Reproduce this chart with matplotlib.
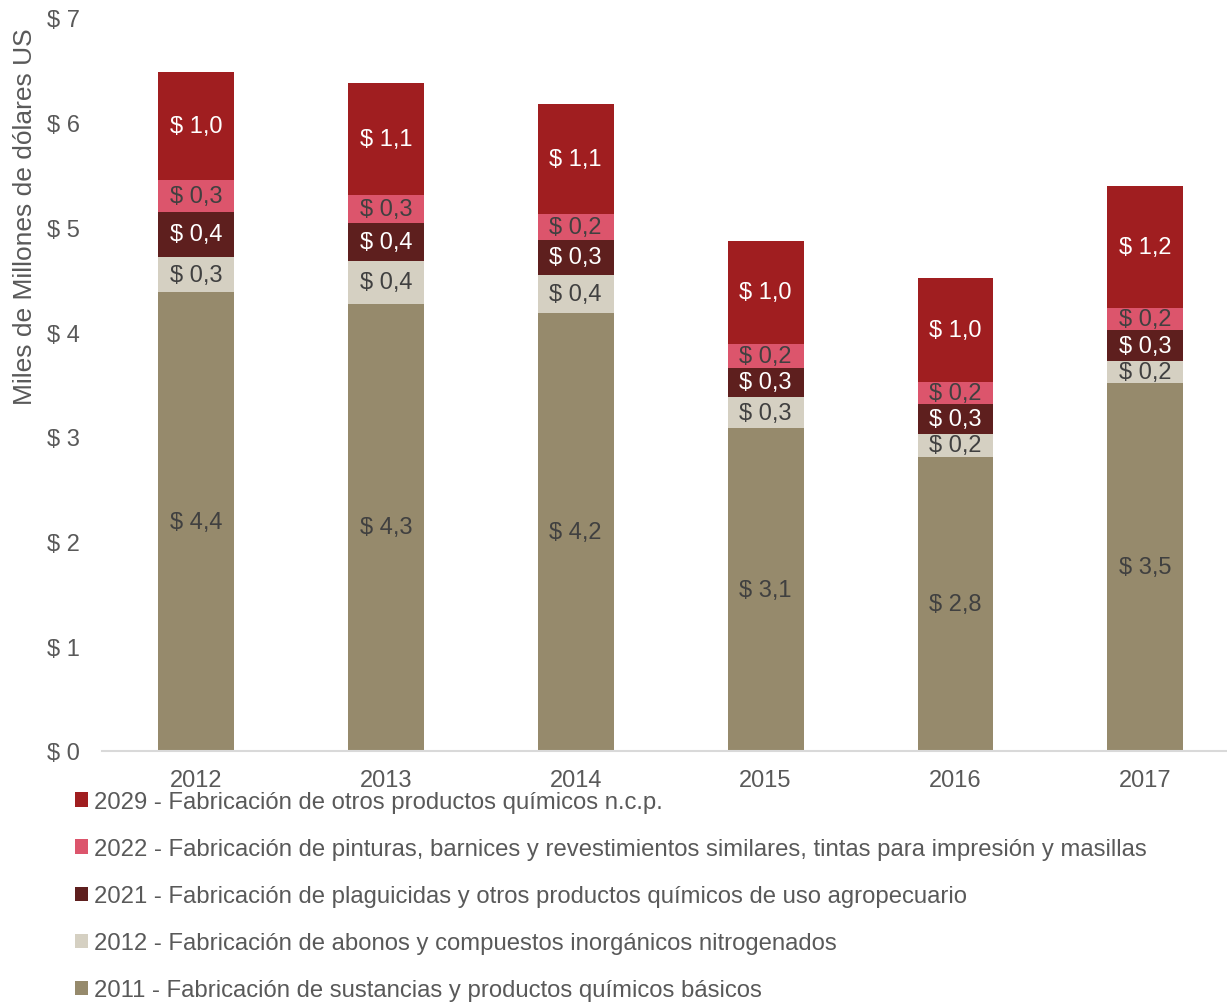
import matplotlib
matplotlib.use('Agg')
import matplotlib.pyplot as plt
from matplotlib.patches import Patch
import numpy as np

plt.rcParams['font.family'] = ['Liberation Sans', 'DejaVu Sans']

years = ['2012', '2013', '2014', '2015', '2016', '2017']

# miles de millones de dolares US
v2011 = [4.38, 4.27, 4.18, 3.08, 2.81, 3.51]
v2012 = [0.34, 0.41, 0.37, 0.30, 0.22, 0.21]
v2021 = [0.43, 0.36, 0.33, 0.28, 0.28, 0.30]
v2022 = [0.30, 0.27, 0.25, 0.23, 0.21, 0.21]
v2029 = [1.03, 1.07, 1.05, 0.98, 1.00, 1.17]

series = [
    (v2011, '#968A6C', '#404040', '2011 - Fabricación de sustancias y productos químicos básicos'),
    (v2012, '#D5D0C2', '#404040', '2012 - Fabricación de abonos y compuestos inorgánicos nitrogenados'),
    (v2021, '#5E1F1E', 'white', '2021 - Fabricación de plaguicidas y otros productos químicos de uso agropecuario'),
    (v2022, '#DC556C', '#404040', '2022 - Fabricación de pinturas, barnices y revestimientos similares, tintas para impresión y masillas'),
    (v2029, '#A01E20', 'white', '2029 - Fabricación de otros productos químicos n.c.p.'),
]

fs = 17

fig = plt.figure(figsize=(12.27, 10.03), dpi=100)
ax = fig.add_axes([102 / 1227, 1 - 752 / 1003, 1 - 102 / 1227, (752 - 19) / 1003])

x = np.arange(len(years))
bottom = np.zeros(len(years))
for vals, col, tcol, lab in series:
    vals = np.array(vals)
    ax.bar(x, vals, width=0.4, bottom=bottom, color=col, edgecolor='none')
    for xi, b, v in zip(x, bottom, vals):
        ax.text(xi, b + v / 2, '$ ' + f'{v:.1f}'.replace('.', ','),
                ha='center', va='center', fontsize=fs, color=tcol)
    bottom += vals

ax.set_xlim(-0.495, 5.43)
ax.set_ylim(0, 7)
ax.set_yticks(range(0, 8))
ax.set_yticklabels([f'$ {i}' for i in range(0, 8)])
ax.set_xticks(x)
ax.set_xticklabels(years)
ax.tick_params(axis='both', length=0, labelsize=fs, labelcolor='#595959')
ax.tick_params(axis='y', pad=16)
ax.tick_params(axis='x', pad=13)
for s in ['top', 'right', 'left']:
    ax.spines[s].set_visible(False)
ax.spines['bottom'].set_color('#D9D9D9')
ax.spines['bottom'].set_linewidth(1.5)

fig.text(25 / 1227, 1 - 217 / 1003, 'Miles de Millones de dólares US', rotation=90,
         ha='center', va='center', fontsize=19, color='#595959')

handles = [Patch(facecolor=c, edgecolor='none', label=l) for _, c, _, l in series][::-1]
fig.legend(handles=handles, loc='upper left', bbox_to_anchor=(75 / 1227, 1 - 792 / 1003),
           frameon=False, fontsize=17.2, labelcolor='#595959', handlelength=0.55,
           handleheight=0.55, handletextpad=0.25, labelspacing=1.05, borderaxespad=0,
           borderpad=0)

fig.savefig('out.png', dpi=100)
